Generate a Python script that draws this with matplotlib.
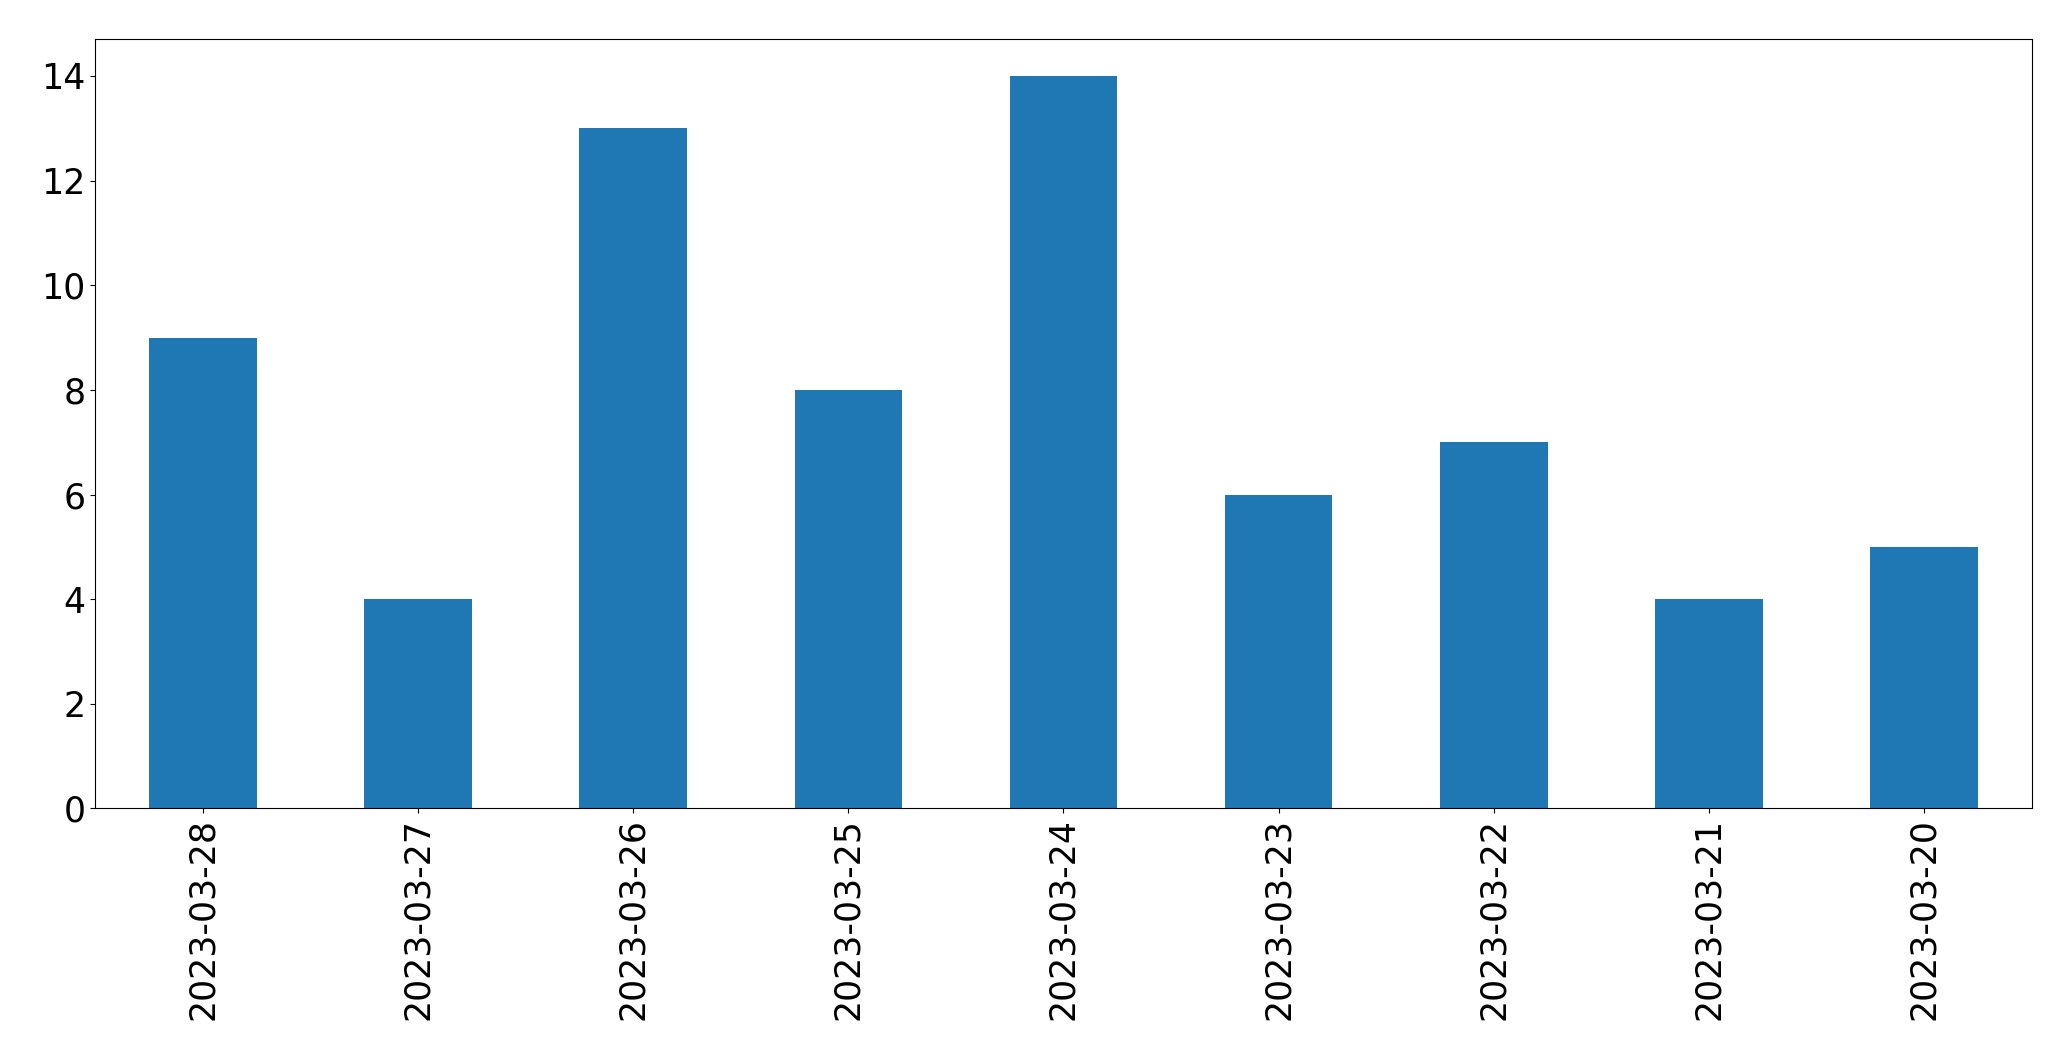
import matplotlib
matplotlib.use("Agg")
import matplotlib.pyplot as plt
import pandas as pd

# ===== DADOS =====
datas = ["2023-03-28", "2023-03-27", "2023-03-26", "2023-03-25", "2023-03-24",
         "2023-03-23", "2023-03-22", "2023-03-21", "2023-03-20"]
contagens = [9, 4, 13, 8, 14, 6, 7, 4, 5]

serie = pd.Series(contagens, index=datas)

fig, ax = plt.subplots(figsize=(20.71, 10.61), dpi=100)
serie.plot(kind="bar", ax=ax, color="#1f77b4")
ax.tick_params(axis="both", labelsize=25)
fig.subplots_adjust(left=0.046, right=0.981, top=0.963, bottom=0.238)

plt.savefig("out.png", dpi=100)
